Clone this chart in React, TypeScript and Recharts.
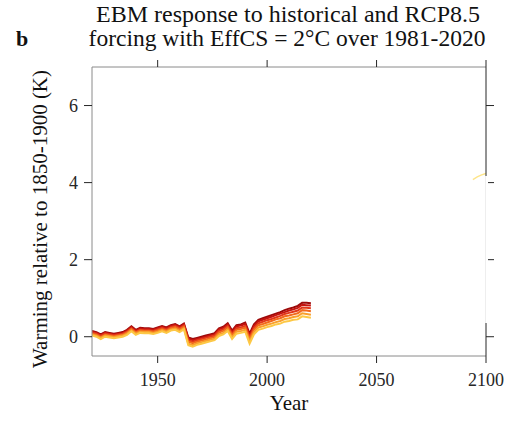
import { LineChart, Line, XAxis, YAxis } from "recharts";

const years = [
  1920, 1922, 1924, 1926, 1928, 1930, 1932, 1934, 1936, 1938, 1940, 1942, 1944,
  1946, 1948, 1950, 1952, 1954, 1956, 1958, 1960, 1962, 1964, 1966, 1968, 1970,
  1972, 1974, 1976, 1978, 1980, 1982, 1984, 1986, 1988, 1990, 1992, 1994, 1996,
  1998, 2000, 2002, 2004, 2006, 2008, 2010, 2012, 2014, 2016, 2018, 2020,
];

// ensemble members, warmest (dark red) to coolest (yellow)
const run1 = [
  0.15, 0.12, 0.06, 0.12, 0.1, 0.08, 0.1, 0.12, 0.18, 0.27, 0.18, 0.23, 0.22,
  0.22, 0.2, 0.24, 0.28, 0.24, 0.3, 0.33, 0.27, 0.34, -0.02, -0.06, -0.03, 0.0,
  0.03, 0.06, 0.09, 0.22, 0.26, 0.35, 0.16, 0.3, 0.32, 0.37, 0.08, 0.32, 0.44,
  0.48, 0.52, 0.56, 0.6, 0.64, 0.69, 0.73, 0.76, 0.8, 0.88, 0.88, 0.87,
];
const run2 = [
  0.13, 0.1, 0.04, 0.1, 0.08, 0.06, 0.08, 0.1, 0.16, 0.25, 0.16, 0.21, 0.2,
  0.2, 0.18, 0.22, 0.26, 0.22, 0.28, 0.31, 0.25, 0.32, -0.05, -0.09, -0.06, -0.03,
  0.0, 0.03, 0.06, 0.19, 0.23, 0.32, 0.13, 0.27, 0.29, 0.33, 0.04, 0.28, 0.4,
  0.44, 0.48, 0.52, 0.56, 0.6, 0.64, 0.68, 0.71, 0.75, 0.83, 0.82, 0.81,
];
const run3 = [
  0.11, 0.08, 0.02, 0.08, 0.06, 0.04, 0.06, 0.08, 0.13, 0.22, 0.13, 0.18, 0.17,
  0.17, 0.15, 0.19, 0.23, 0.19, 0.25, 0.28, 0.22, 0.29, -0.09, -0.13, -0.09, -0.06,
  -0.03, 0.0, 0.03, 0.15, 0.19, 0.28, 0.08, 0.22, 0.24, 0.28, -0.01, 0.23, 0.35,
  0.39, 0.43, 0.46, 0.5, 0.54, 0.59, 0.62, 0.65, 0.68, 0.76, 0.75, 0.74,
];
const run4 = [
  0.08, 0.05, -0.01, 0.05, 0.03, 0.01, 0.03, 0.05, 0.11, 0.2, 0.11, 0.16, 0.15,
  0.15, 0.13, 0.16, 0.2, 0.16, 0.22, 0.25, 0.19, 0.26, -0.13, -0.17, -0.13, -0.1,
  -0.07, -0.04, -0.01, 0.11, 0.15, 0.24, 0.04, 0.18, 0.2, 0.24, -0.06, 0.18, 0.3,
  0.33, 0.37, 0.41, 0.45, 0.48, 0.53, 0.55, 0.58, 0.61, 0.69, 0.68, 0.66,
];
const run5 = [
  0.06, 0.03, -0.03, 0.03, 0.01, -0.01, 0.01, 0.03, 0.08, 0.17, 0.08, 0.13, 0.12,
  0.12, 0.1, 0.13, 0.17, 0.13, 0.19, 0.21, 0.15, 0.22, -0.18, -0.22, -0.17, -0.14,
  -0.11, -0.08, -0.05, 0.06, 0.1, 0.19, -0.01, 0.13, 0.15, 0.18, -0.12, 0.12, 0.24,
  0.27, 0.31, 0.34, 0.38, 0.41, 0.46, 0.48, 0.51, 0.53, 0.61, 0.59, 0.57,
];
const run6 = [
  0.03, 0.0, -0.06, 0.0, -0.02, -0.04, -0.02, 0.0, 0.05, 0.14, 0.05, 0.1, 0.09,
  0.09, 0.07, 0.1, 0.14, 0.1, 0.16, 0.18, 0.12, 0.19, -0.22, -0.26, -0.21, -0.18,
  -0.15, -0.12, -0.09, 0.02, 0.06, 0.15, -0.06, 0.08, 0.1, 0.13, -0.18, 0.06, 0.18,
  0.21, 0.25, 0.28, 0.32, 0.34, 0.39, 0.41, 0.44, 0.45, 0.53, 0.51, 0.49,
];

const tailYears = [2094, 2096, 2098, 2100];
const tailValues = [4.08, 4.15, 4.2, 4.24];

const xTicks = [1950, 2000, 2050, 2100];
const yTicks = [0, 2, 4, 6];

const runs = [run1, run2, run3, run4, run5, run6];
const runColors = ["#9b0a0a", "#c4140f", "#e2381a", "#f26a1c", "#f9a02c", "#fdc845"];

const data = [
  ...years.map((year, i) => {
    const row: Record<string, number> = { year };
    runs.forEach((r, k) => (row[`r${k}`] = r[i]));
    return row;
  }),
  ...tailYears.map((year, i) => ({ year, tail: tailValues[i] })),
];

const serif = "'Liberation Serif', serif";
const tickStyle = { fill: "#262626", fontSize: 18, fontFamily: serif };

export default function App() {
  return (
    <div
      style={{
        position: "absolute",
        left: 0,
        top: 0,
        width: 508,
        height: 422,
        background: "#fff",
      }}
    >
      <LineChart
        width={508}
        height={422}
        data={data}
        margin={{ top: 57, right: 12, bottom: 26, left: 52 }}
      >
        <XAxis
          dataKey="year"
          type="number"
          domain={[1920, 2100]}
          ticks={xTicks}
          allowDataOverflow
          height={40}
          tick={tickStyle}
          tickSize={7}
          tickMargin={10}
          axisLine={{ stroke: "#8a8a8a" }}
          tickLine={{ stroke: "#262626" }}
        />
        <XAxis
          xAxisId="top"
          orientation="top"
          dataKey="year"
          type="number"
          domain={[1920, 2100]}
          ticks={xTicks}
          allowDataOverflow
          height={10}
          tickFormatter={() => ""}
          tickSize={7}
          axisLine={{ stroke: "#8a8a8a" }}
          tickLine={{ stroke: "#262626" }}
        />
        <YAxis
          type="number"
          domain={[-0.5, 7]}
          ticks={yTicks}
          allowDataOverflow
          width={40}
          tick={tickStyle}
          tickSize={8}
          tickMargin={6}
          axisLine={{ stroke: "#8a8a8a" }}
          tickLine={{ stroke: "#262626" }}
        />
        <YAxis
          yAxisId="right"
          orientation="right"
          type="number"
          domain={[-0.5, 7]}
          ticks={yTicks}
          allowDataOverflow
          width={10}
          tickFormatter={() => ""}
          tickSize={8}
          axisLine={{ stroke: "#262626" }}
          tickLine={{ stroke: "#262626" }}
        />
        {runs.map((_, k) => (
          <Line
            key={k}
            dataKey={`r${k}`}
            stroke={runColors[k]}
            strokeWidth={2}
            dot={false}
            type="linear"
            isAnimationActive={false}
          />
        ))}
        <Line
          dataKey="tail"
          xAxisId="top"
          yAxisId="right"
          stroke="#fde58a"
          strokeWidth={1.5}
          dot={false}
          isAnimationActive={false}
        />
      </LineChart>

      {/* white patch hiding part of the right frame, as in the original */}
      <div
        style={{
          position: "absolute",
          left: 485,
          top: 176,
          width: 2,
          height: 147,
          background: "#fff",
          borderLeft: "1px solid #eeeeee",
        }}
      />

      <svg
        width={508}
        height={422}
        style={{ position: "absolute", left: 0, top: 0, pointerEvents: "none" }}
        fill="#111"
        fontFamily={serif}
      >
        <text x={288} y={22} fontSize={24} textAnchor="middle">
          EBM response to historical and RCP8.5
        </text>
        <text x={287} y={46} fontSize={23.5} textAnchor="middle">
          forcing with EffCS = 2°C over 1981-2020
        </text>
        <text x={16} y={46} fontSize={22} fontWeight="bold">
          b
        </text>
        <text
          x={47}
          y={219}
          fontSize={21}
          textAnchor="middle"
          transform="rotate(-90 47 219)"
        >
          Warming relative to 1850-1900 (K)
        </text>
        <text x={289} y={410} fontSize={21} textAnchor="middle">
          Year
        </text>
      </svg>
    </div>
  );
}
